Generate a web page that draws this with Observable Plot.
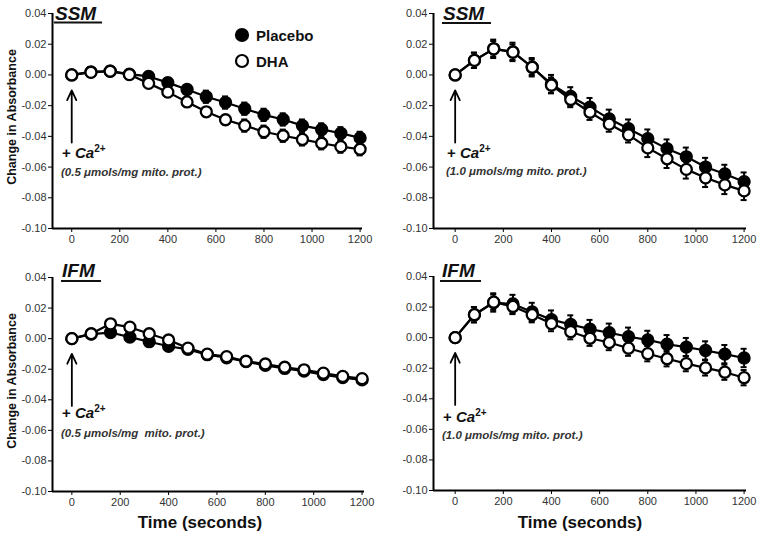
<!DOCTYPE html>
<html>
<head>
<meta charset="utf-8">
<script src="https://cdn.jsdelivr.net/npm/d3@7"></script>
<script src="https://cdn.jsdelivr.net/npm/@observablehq/plot@0.6"></script>
<style>
  html, body { margin: 0; padding: 0; background: #fff; }
  #wrap { position: relative; width: 762px; height: 536px; overflow: hidden; font-family: "Liberation Sans", Arial, sans-serif; }
  #wrap > .panel { position: absolute; }
  #overlay { position: absolute; left: 0; top: 0; pointer-events: none; }
</style>
</head>
<body>
<div id="wrap"></div>
<script>
// ---------- data ----------
const times = [0, 80, 160, 240, 320, 400, 480, 560, 640, 720, 800, 880, 960, 1040, 1120, 1200];
const xTicks = [0, 200, 400, 600, 800, 1000, 1200];
const yTicks = [0.04, 0.02, 0, -0.02, -0.04, -0.06, -0.08, -0.10];
const groups = ["Placebo", "DHA"];

// SSM, 0.5 µmol Ca2+
const ssm05Placebo = [0, 0.0020, 0.0025, 0.0005, -0.0010, -0.0050, -0.0095, -0.0142, -0.0180, -0.0220, -0.0260, -0.0290, -0.0330, -0.0355, -0.0380, -0.0410];
const ssm05PlaceboErr = [0, 0.003, 0.003, 0.003, 0.003, 0.003, 0.003, 0.004, 0.004, 0.004, 0.004, 0.004, 0.004, 0.004, 0.004, 0.004];
const ssm05DHA = [0, 0.0017, 0.0024, 0.0002, -0.0055, -0.0112, -0.0176, -0.0240, -0.0292, -0.0330, -0.0370, -0.0396, -0.0420, -0.0445, -0.0467, -0.0484];
const ssm05DHAErr = [0, 0.003, 0.003, 0.003, 0.003, 0.003, 0.003, 0.003, 0.003, 0.004, 0.004, 0.004, 0.004, 0.004, 0.004, 0.004];

// SSM, 1.0 µmol Ca2+
const ssm10Placebo = [0, 0.0095, 0.0170, 0.0150, 0.0050, -0.0060, -0.0140, -0.0210, -0.0286, -0.0350, -0.0415, -0.0480, -0.0533, -0.0600, -0.0645, -0.0695];
const ssm10PlaceboErr = [0, 0.005, 0.006, 0.006, 0.006, 0.006, 0.006, 0.006, 0.006, 0.006, 0.006, 0.006, 0.006, 0.006, 0.006, 0.006];
const ssm10DHA = [0, 0.0095, 0.0170, 0.0148, 0.0050, -0.0067, -0.0160, -0.0243, -0.0320, -0.0390, -0.0475, -0.0546, -0.0615, -0.0670, -0.0716, -0.0755];
const ssm10DHAErr = [0, 0.005, 0.005, 0.005, 0.005, 0.005, 0.005, 0.005, 0.005, 0.005, 0.006, 0.006, 0.006, 0.006, 0.006, 0.006];

// IFM, 0.5 µmol Ca2+
const ifm05Placebo = [0, 0.0030, 0.0040, 0.0010, -0.0020, -0.0050, -0.0070, -0.0105, -0.0125, -0.0150, -0.0175, -0.0195, -0.0212, -0.0235, -0.0255, -0.0270];
const ifm05PlaceboErr = [0, 0.001, 0.001, 0.001, 0.001, 0.001, 0.001, 0.001, 0.001, 0.001, 0.001, 0.001, 0.001, 0.001, 0.001, 0.001];
const ifm05DHA = [0, 0.0032, 0.0097, 0.0075, 0.0032, -0.0009, -0.0062, -0.0101, -0.0118, -0.0148, -0.0166, -0.0187, -0.0204, -0.0226, -0.0247, -0.0262];
const ifm05DHAErr = [0, 0.001, 0.001, 0.001, 0.001, 0.001, 0.001, 0.001, 0.001, 0.001, 0.001, 0.001, 0.001, 0.001, 0.001, 0.001];

// IFM, 1.0 µmol Ca2+
const ifm10Placebo = [0, 0.0150, 0.0230, 0.0220, 0.0168, 0.0118, 0.0086, 0.0056, 0.0032, 0.0006, -0.0015, -0.0043, -0.0062, -0.0084, -0.0108, -0.0133];
const ifm10PlaceboErr = [0, 0.005, 0.006, 0.006, 0.006, 0.006, 0.006, 0.006, 0.006, 0.006, 0.006, 0.006, 0.006, 0.006, 0.006, 0.006];
const ifm10DHA = [0, 0.0150, 0.0232, 0.0204, 0.0150, 0.0092, 0.0039, -0.0004, -0.0032, -0.0069, -0.0105, -0.0138, -0.0170, -0.0198, -0.0226, -0.0262];
const ifm10DHAErr = [0, 0.005, 0.005, 0.005, 0.005, 0.005, 0.005, 0.005, 0.005, 0.005, 0.005, 0.005, 0.005, 0.005, 0.005, 0.005];

const arrowFrom = -0.044, arrowTo = -0.010;

// ---------- panels ----------
const panels = [
  {left: 0,   top: 0,   width: 381, height: 262, mt: 13, mb: 34, ml: 52, mr: 19, xd: [-80, 1210], placebo: ssm05Placebo, pErr: ssm05PlaceboErr, dha: ssm05DHA, dErr: ssm05DHAErr},
  {left: 381, top: 0,   width: 381, height: 262, mt: 13, mb: 34, ml: 52, mr: 16, xd: [-90, 1210], placebo: ssm10Placebo, pErr: ssm10PlaceboErr, dha: ssm10DHA, dErr: ssm10DHAErr},
  {left: 0,   top: 262, width: 381, height: 274, mt: 15, mb: 45, ml: 52, mr: 17, xd: [-80, 1210], placebo: ifm05Placebo, pErr: ifm05PlaceboErr, dha: ifm05DHA, dErr: ifm05DHAErr},
  {left: 381, top: 262, width: 381, height: 274, mt: 14, mb: 46, ml: 52, mr: 16, xd: [-90, 1210], placebo: ifm10Placebo, pErr: ifm10PlaceboErr, dha: ifm10DHA, dErr: ifm10DHAErr}
];

const wrap = document.getElementById("wrap");

for (const p of panels) {
  const rows = [];
  times.forEach((t, i) => rows.push({t, v: p.placebo[i], e: p.pErr[i], group: "Placebo"}));
  times.forEach((t, i) => rows.push({t, v: p.dha[i], e: p.dErr[i], group: "DHA"}));
  const withErr = rows.filter(d => d.e > 0);

  const chart = Plot.plot({
    width: p.width,
    height: p.height,
    marginTop: p.mt, marginBottom: p.mb, marginLeft: p.ml, marginRight: p.mr,
    style: {fontFamily: "'Liberation Sans', Arial, sans-serif", fontSize: "11px", color: "#000", background: "transparent"},
    x: {domain: p.xd, ticks: xTicks, tickSize: 4, tickPadding: 3, label: null, tickFormat: d => String(d)},
    y: {domain: [-0.10, 0.04], ticks: yTicks, tickSize: 4, tickPadding: 2, label: null, tickFormat: d => d.toFixed(2)},
    marks: [
      Plot.ruleY([-0.10], {stroke: "black", strokeWidth: 2}),
      Plot.ruleX([p.xd[0]], {y1: -0.10, y2: 0.04, stroke: "black", strokeWidth: 2}),
      Plot.arrow([0], {x1: 0, x2: 0, y1: arrowFrom, y2: arrowTo, stroke: "black", strokeWidth: 1.8, headLength: 9, headAngle: 50}),
      Plot.line(rows, {x: "t", y: "v", z: "group", stroke: "black", strokeWidth: 2.2}),
      Plot.ruleX(withErr, {x: "t", y1: d => d.v - d.e, y2: d => d.v + d.e, stroke: "black", strokeWidth: 2}),
      Plot.ruleY(withErr, {y: d => d.v + d.e, x1: "t", x2: "t", insetLeft: -3, insetRight: -3, stroke: "black", strokeWidth: 2}),
      Plot.ruleY(withErr, {y: d => d.v - d.e, x1: "t", x2: "t", insetLeft: -3, insetRight: -3, stroke: "black", strokeWidth: 2}),
      Plot.dot(rows, {x: "t", y: "v", r: 5.5, fill: d => d.group === "Placebo" ? "black" : "white", stroke: "black", strokeWidth: 2.3})
    ]
  });
  chart.classList.add("panel");
  chart.style.left = p.left + "px";
  chart.style.top = p.top + "px";
  d3.select(chart).selectAll("g[aria-label='y-axis tick label'] text, g[aria-label='x-axis tick label'] text").attr("fill", "#333");
  wrap.appendChild(chart);
}

// ---------- overlay text ----------
const svg = d3.select(wrap).append("svg")
  .attr("id", "overlay").attr("width", 762).attr("height", 536)
  .style("font-family", "'Liberation Sans', Arial, sans-serif");

// y-axis titles
[[117], [381]].forEach(([cy]) => {
  svg.append("text").attr("transform", `translate(12,${cy}) rotate(-90)`)
    .attr("text-anchor", "middle").attr("dominant-baseline", "central")
    .attr("font-size", 12.5).attr("font-weight", "bold").attr("fill", "#111")
    .text("Change in Absorbance");
});

// x-axis titles
[200, 580].forEach(cx => {
  svg.append("text").attr("x", cx).attr("y", 528).attr("text-anchor", "middle")
    .attr("font-size", 17).attr("font-weight", "bold").attr("fill", "#111")
    .text("Time (seconds)");
});

// panel titles with underline
const titles = [
  {t: "SSM", x: 55, y: 20, u1: 54, u2: 102, uy: 22.5},
  {t: "SSM", x: 443, y: 20, u1: 442, u2: 491, uy: 23},
  {t: "IFM", x: 62, y: 277, u1: 61, u2: 101, uy: 281},
  {t: "IFM", x: 442, y: 277, u1: 440, u2: 481, uy: 281}
];
titles.forEach(d => {
  svg.append("text").attr("x", d.x).attr("y", d.y)
    .attr("font-size", 19).attr("font-weight", "bold").attr("font-style", "italic").attr("fill", "#111")
    .text(d.t);
  svg.append("line").attr("x1", d.u1).attr("x2", d.u2).attr("y1", d.uy).attr("y2", d.uy)
    .attr("stroke", "#111").attr("stroke-width", 2);
});

// legend
const legend = [
  {label: "Placebo", cy: 35, fill: "black"},
  {label: "DHA", cy: 61, fill: "white"}
];
legend.forEach(d => {
  svg.append("circle").attr("cx", 242).attr("cy", d.cy).attr("r", 6)
    .attr("fill", d.fill).attr("stroke", "black").attr("stroke-width", 2.2);
  svg.append("text").attr("x", 256).attr("y", d.cy).attr("dominant-baseline", "central")
    .attr("font-size", 15).attr("font-weight", "bold").attr("fill", "#111").text(d.label);
});

// Ca2+ annotations
const notes = [
  {x: 62, y1: 158, y2: 176, sub: "(0.5 μmols/mg mito. prot.)"},
  {x: 447, y1: 158, y2: 175, sub: "(1.0 μmols/mg mito. prot.)"},
  {x: 62, y1: 418, y2: 437, sub: "(0.5 μmols/mg  mito. prot.)"},
  {x: 443, y1: 422, y2: 439, sub: "(1.0 μmols/mg mito. prot.)"}
];
notes.forEach(d => {
  const t = svg.append("text").attr("x", d.x).attr("y", d.y1)
    .attr("font-size", 15).attr("font-weight", "bold").attr("fill", "#111");
  t.append("tspan").text("+ ");
  t.append("tspan").attr("font-style", "italic").text("Ca");
  t.append("tspan").attr("font-size", 10).attr("dy", -6).text("2+");
  svg.append("text").attr("x", d.x - 1).attr("y", d.y2)
    .attr("font-size", 11.5).attr("font-weight", "bold").attr("font-style", "italic")
    .attr("fill", "#333").style("white-space", "pre").text(d.sub);
});
</script>
</body>
</html>
